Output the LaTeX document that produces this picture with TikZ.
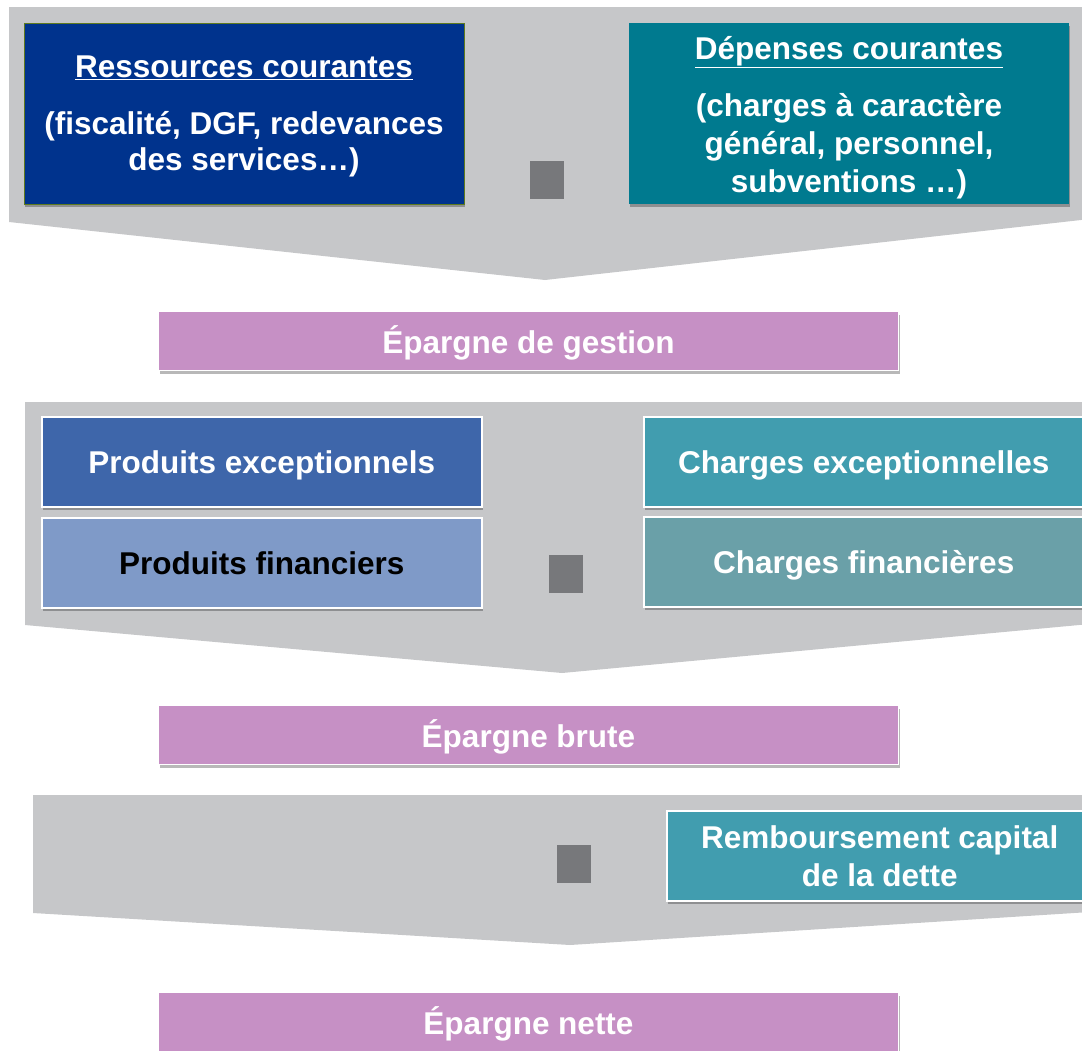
\documentclass[tikz,border=0pt]{standalone}
\usepackage{fontspec}
\setmainfont{Liberation Sans}
\usetikzlibrary{shadows}
\definecolor{grayband}{HTML}{C6C7C9}
\definecolor{minusgray}{HTML}{77787B}
\definecolor{resblue}{HTML}{00338D}
\definecolor{depteal}{HTML}{007A8F}
\definecolor{pexc}{HTML}{3E66AA}
\definecolor{pfin}{HTML}{7F9AC8}
\definecolor{cexc}{HTML}{419DAF}
\definecolor{cfin}{HTML}{6AA0A8}
\definecolor{pinkbox}{HTML}{C690C5}
\definecolor{olive}{HTML}{5E7A1E}
\tikzset{
  band/.style={fill=grayband},
  card/.style={anchor=north west, inner sep=0pt, align=center, text=white,
    font=\bfseries\fontsize{31.5}{38}\selectfont,
    drop shadow={shadow xshift=1pt, shadow yshift=-3pt, opacity=0.28, fill=black}},
  oneline/.style={text height=30pt, text depth=6pt},
  whitecard/.style={card, draw=white, line width=1.5pt},
  resultbox/.style={card, oneline, fill=pinkbox, draw=white, line width=1pt,
    minimum width=740, minimum height=59},
  plaintext/.style={align=center, text=white, inner sep=0pt,
    font=\bfseries\fontsize{31.5}{36}\selectfont},
  minusbox/.style={fill=minusgray, inner sep=0pt, minimum width=34, minimum height=38}
}
\begin{document}
\begin{tikzpicture}[x=1pt,y=-1pt]
\useasboundingbox (0,0) rectangle (1082,1050);
% gray funnels
\fill[band] (9,7) -- (1090,7) -- (1090,219) -- (545,280) -- (9,222) -- cycle;
\fill[band] (25,402) -- (1090,402) -- (1090,624) -- (562,673) -- (25,625) -- cycle;
\fill[band] (33,795) -- (1090,795) -- (1090,912) -- (570,945) -- (33,913) -- cycle;
% block 1
\node[card, fill=resblue, draw=olive, line width=0.8pt, minimum width=440, minimum height=181] (res) at (24,23) {};
\node[plaintext] (restext) at (244,116)
  {\underline{Ressources courantes}\\[21pt](fiscalité, DGF, redevances\\des services…)};
\node[card, fill=depteal, minimum width=440, minimum height=181] (dep) at (629,23) {};
\node[plaintext, font=\bfseries\fontsize{31.5}{38}\selectfont] (deptext) at (849,117.5)
  {\underline{Dépenses courantes}\\[19pt](charges à caractère\\général, personnel,\\subventions …)};
\node[minusbox] (m1) at (547,180) {};
\node[resultbox] (eg) at (158,311) {Épargne de gestion};
% block 2
\node[whitecard, oneline, fill=pexc, minimum width=440, minimum height=90] (pe) at (41,416) {Produits exceptionnels};
\node[whitecard, oneline, fill=pfin, text=black, minimum width=440, minimum height=90] (pf) at (41,517) {Produits financiers};
\node[whitecard, oneline, fill=cexc, minimum width=440, minimum height=90] (ce) at (643,416) {Charges exceptionnelles};
\node[whitecard, oneline, fill=cfin, minimum width=440, minimum height=90] (cf) at (643,516) {Charges financières};
\node[minusbox] (m2) at (566,574) {};
\node[resultbox] (eb) at (158,705) {Épargne brute};
% block 3
\node[whitecard, fill=cexc, minimum width=426, minimum height=90] (rc) at (666,810)
  {Remboursement capital\\de la dette};
\node[minusbox] (m3) at (574,864) {};
\node[resultbox] (en) at (158,992) {Épargne nette};
\end{tikzpicture}
\end{document}
